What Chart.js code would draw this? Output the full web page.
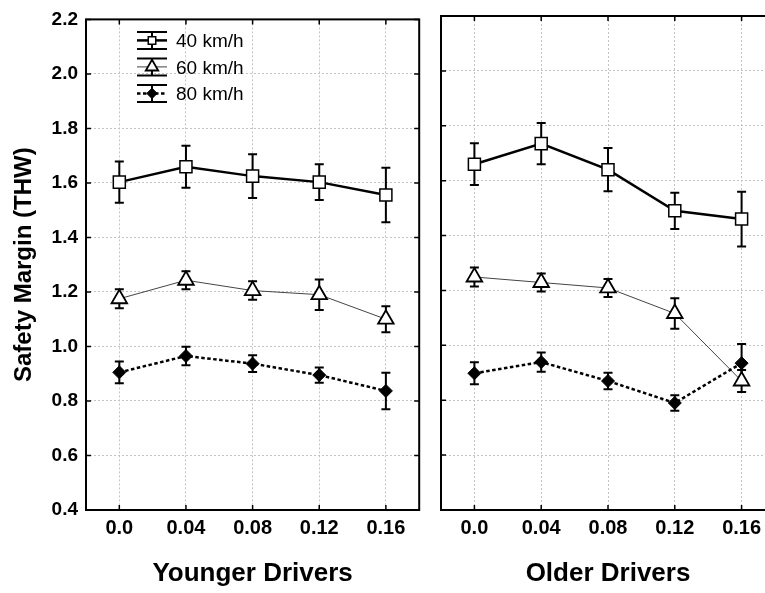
<!DOCTYPE html>
<html>
<head>
<meta charset="utf-8">
<script src="https://cdn.jsdelivr.net/npm/chart.js@4.4.0/dist/chart.umd.min.js"></script>
<style>
    html, body { margin: 0; padding: 0; background: #fff; }
    #left { position: absolute; left: 0; top: 0; width: 430px; height: 593px; }
    #rightClip { position: absolute; left: 430px; top: 0; width: 335px; height: 593px; overflow: hidden; }
    #right { position: absolute; left: 0; top: 0; width: 356px; height: 593px; }
</style>
</head>
<body>
<div id="left"><canvas id="leftChart"></canvas></div>
<div id="rightClip"><div id="right"><canvas id="rightChart"></canvas></div></div>
<script>
// x categories (distance) and series labels
const distanceLabels = ['0.0', '0.04', '0.08', '0.12', '0.16'];
const speedLabels = ['40 km/h', '60 km/h', '80 km/h'];
const yMin = 0.4;
const yMax = 2.2;
const yStep = 0.2;

// Younger drivers: means and half-widths of error bars
const young40 = [1.603, 1.659, 1.625, 1.603, 1.556];
const young40Err = [0.076, 0.077, 0.080, 0.066, 0.100];
const young60 = [1.175, 1.243, 1.205, 1.190, 1.100];
const young60Err = [0.035, 0.033, 0.034, 0.056, 0.048];
const young80 = [0.905, 0.965, 0.937, 0.895, 0.837];
const young80Err = [0.040, 0.034, 0.031, 0.028, 0.067];

// Older drivers
const old40 = [1.660, 1.735, 1.640, 1.490, 1.460];
const old40Err = [0.076, 0.075, 0.079, 0.066, 0.100];
const old60 = [1.249, 1.229, 1.209, 1.116, 0.870];
const old60Err = [0.035, 0.033, 0.033, 0.056, 0.040];
const old80 = [0.898, 0.939, 0.870, 0.790, 0.935];
const old80Err = [0.040, 0.035, 0.030, 0.028, 0.070];

const FONT = "'Liberation Sans', Arial, Helvetica, sans-serif";

function makeDatasets(d40, e40, d60, e60, d80, e80) {
    return [
        {
            label: speedLabels[0], data: d40, errors: e40, order: 0,
            borderColor: '#000', borderWidth: 2.5,
            pointStyle: 'rect', pointRadius: 8.5, legendScale: 0.62,
            pointBackgroundColor: '#fff', pointBorderColor: '#000', pointBorderWidth: 1.5
        },
        {
            label: speedLabels[1], data: d60, errors: e60, order: 2,
            borderColor: '#444', borderWidth: 1,
            pointStyle: 'triangle', pointRadius: 9, legendScale: 0.8,
            pointBackgroundColor: '#fff', pointBorderColor: '#000', pointBorderWidth: 1.8
        },
        {
            label: speedLabels[2], data: d80, errors: e80, order: 1,
            borderColor: '#000', borderWidth: 2.5, borderDash: [3.5, 2.5],
            pointStyle: 'rectRot', pointRadius: 6.5, legendScale: 0.8,
            pointBackgroundColor: '#000', pointBorderColor: '#000', pointBorderWidth: 1
        }
    ];
}

// vertical error bars with caps, under the markers
const errorBarPlugin = {
    id: 'errorBars',
    beforeDatasetsDraw(chart) {
        const { ctx, scales: { y } } = chart;
        ctx.save();
        ctx.strokeStyle = '#000';
        ctx.lineWidth = 2;
        chart.data.datasets.forEach((ds, i) => {
            const meta = chart.getDatasetMeta(i);
            meta.data.forEach((pt, j) => {
                const top = y.getPixelForValue(ds.data[j] + ds.errors[j]);
                const bot = y.getPixelForValue(ds.data[j] - ds.errors[j]);
                ctx.beginPath();
                ctx.moveTo(pt.x, top); ctx.lineTo(pt.x, bot);
                ctx.moveTo(pt.x - 4.5, top); ctx.lineTo(pt.x + 4.5, top);
                ctx.moveTo(pt.x - 4.5, bot); ctx.lineTo(pt.x + 4.5, bot);
                ctx.stroke();
            });
        });
        ctx.restore();
    }
};

// black box round the plot area with small inward ticks
const framePlugin = {
    id: 'frame',
    afterDraw(chart) {
        const { ctx, chartArea: a, scales: { x, y } } = chart;
        ctx.save();
        ctx.strokeStyle = '#000';
        ctx.lineWidth = 2;
        ctx.strokeRect(a.left, a.top, a.right - a.left, a.bottom - a.top);
        ctx.lineWidth = 1.5;
        ctx.beginPath();
        y.ticks.forEach((t, i) => {
            const py = y.getPixelForTick(i);
            ctx.moveTo(a.left, py); ctx.lineTo(a.left + 5, py);
            ctx.moveTo(a.right, py); ctx.lineTo(a.right - 5, py);
        });
        x.ticks.forEach((t, i) => {
            const px = x.getPixelForTick(i);
            ctx.moveTo(px, a.bottom); ctx.lineTo(px, a.bottom - 5);
            ctx.moveTo(px, a.top); ctx.lineTo(px, a.top + 5);
        });
        ctx.stroke();
        ctx.restore();
    }
};

// legend inside the left panel, errorbar-style symbols
const insetLegendPlugin = {
    id: 'insetLegend',
    afterDraw(chart) {
        const { ctx, chartArea: a } = chart;
        const cx = a.left + 66;
        ctx.save();
        chart.data.datasets.forEach((ds, i) => {
            const cy = a.top + 21 + i * 26.5;
            ctx.strokeStyle = '#000';
            ctx.lineWidth = 2;
            ctx.setLineDash([]);
            ctx.beginPath();
            ctx.moveTo(cx - 15, cy - 8.5); ctx.lineTo(cx + 15, cy - 8.5);
            ctx.moveTo(cx - 15, cy + 8.5); ctx.lineTo(cx + 15, cy + 8.5);
            ctx.moveTo(cx, cy - 8.5); ctx.lineTo(cx, cy + 8.5);
            ctx.stroke();
            ctx.strokeStyle = ds.borderColor;
            ctx.lineWidth = ds.borderWidth;
            ctx.setLineDash(ds.borderDash || []);
            ctx.beginPath();
            ctx.moveTo(cx - 15, cy); ctx.lineTo(cx + 15, cy);
            ctx.stroke();
            ctx.setLineDash([]);
            ctx.fillStyle = ds.pointBackgroundColor;
            ctx.strokeStyle = ds.pointBorderColor;
            ctx.lineWidth = ds.pointBorderWidth;
            Chart.helpers.drawPoint(ctx, {
                pointStyle: ds.pointStyle,
                radius: ds.pointRadius * ds.legendScale,
                rotation: 0,
                borderWidth: ds.pointBorderWidth
            }, cx, cy);
            ctx.fillStyle = '#000';
            ctx.font = '19px ' + FONT;
            ctx.textAlign = 'left';
            ctx.textBaseline = 'middle';
            ctx.fillText(ds.label, cx + 24, cy + 1.5);
        });
        ctx.restore();
    }
};

function makeOptions(title, showY) {
    return {
        responsive: true,
        maintainAspectRatio: false,
        animation: false,
        layout: {
            padding: showY ? { top: 16, right: 10, left: 0, bottom: 0 } : { top: 16, right: 11, left: 11, bottom: 0 }
        },
        plugins: {
            legend: { display: false },
            tooltip: { enabled: false }
        },
        scales: {
            x: {
                type: 'category',
                offset: true,
                grid: { color: '#c4c4c4', lineWidth: 1, drawTicks: false, offset: false },
                border: { display: false, dash: [2, 2] },
                ticks: {
                    color: '#000', padding: 6, maxRotation: 0, autoSkip: false,
                    font: { family: FONT, size: 20, weight: 'bold' }
                },
                title: {
                    display: true, text: title, color: '#000',
                    font: { family: FONT, size: 26, weight: 'bold' },
                    padding: { top: 0, bottom: 4 }
                },
                afterFit(scale) { scale.height = 83; }
            },
            y: {
                min: yMin,
                max: yMax,
                grid: { color: '#c4c4c4', lineWidth: 1, drawTicks: false },
                border: { display: false, dash: [2, 2] },
                ticks: {
                    display: showY,
                    stepSize: yStep,
                    padding: 8,
                    color: '#000',
                    font: { family: FONT, size: 19, weight: 'bold' },
                    callback: v => Number(v).toFixed(1)
                },
                title: {
                    display: showY, text: 'Safety Margin (THW)', color: '#000',
                    font: { family: FONT, size: 24, weight: 'bold' },
                    padding: { top: 10, bottom: 0 }
                },
                afterFit(scale) { scale.width = showY ? 86 : 0; }
            }
        }
    };
}

new Chart(document.getElementById('leftChart'), {
    type: 'line',
    data: {
        labels: distanceLabels,
        datasets: makeDatasets(young40, young40Err, young60, young60Err, young80, young80Err)
    },
    options: makeOptions('Younger Drivers', true),
    plugins: [errorBarPlugin, framePlugin, insetLegendPlugin]
});

new Chart(document.getElementById('rightChart'), {
    type: 'line',
    data: {
        labels: distanceLabels,
        datasets: makeDatasets(old40, old40Err, old60, old60Err, old80, old80Err)
    },
    options: makeOptions('Older Drivers', false),
    plugins: [errorBarPlugin, framePlugin]
});
</script>
</body>
</html>
